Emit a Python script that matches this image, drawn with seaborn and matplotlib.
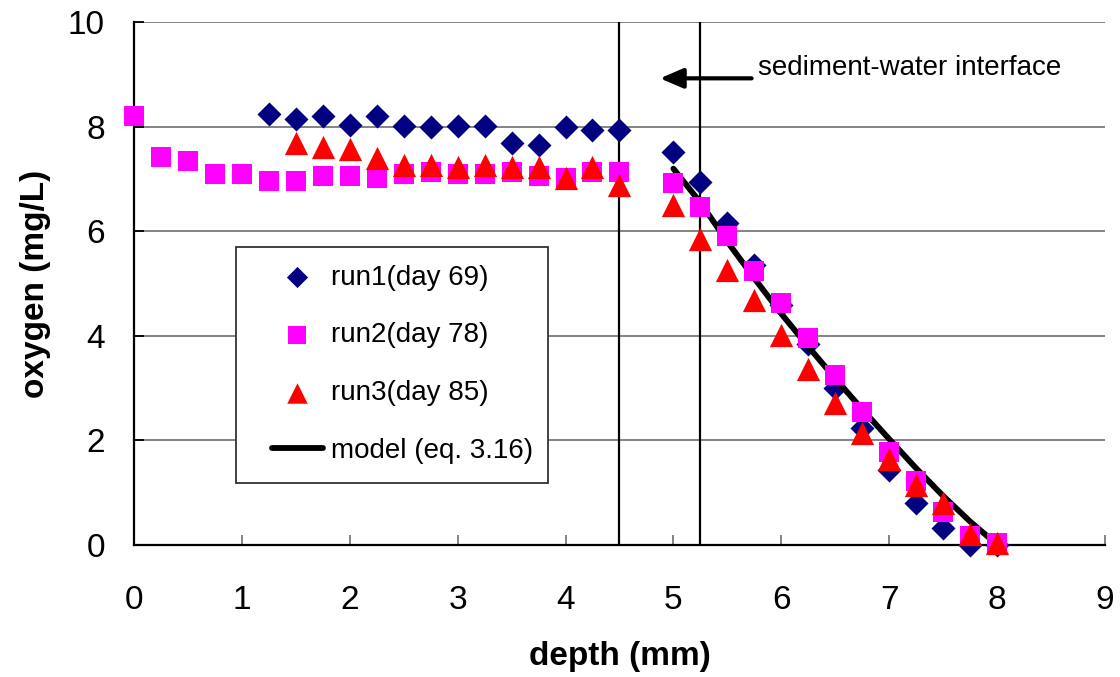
import matplotlib
matplotlib.use("Agg")
import matplotlib.pyplot as plt
from matplotlib.patches import Rectangle
import seaborn as sns
import pandas as pd

# ---------------- data ----------------
depth_run1 = [1.25, 1.5, 1.75, 2.0, 2.25, 2.5, 2.75, 3.0, 3.25, 3.5, 3.75, 4.0, 4.25, 4.5,
              5.0, 5.25, 5.5, 5.75, 6.0, 6.25, 6.5, 6.75, 7.0, 7.25, 7.5, 7.75, 8.0]
oxy_run1 = [8.24, 8.15, 8.20, 8.04, 8.20, 8.02, 7.99, 8.02, 8.02, 7.70, 7.65, 7.99, 7.94, 7.94,
            7.52, 6.95, 6.15, 5.36, 4.58, 3.85, 3.00, 2.23, 1.43, 0.80, 0.32, 0.0, 0.0]

depth_run2 = [0.0, 0.25, 0.5, 0.75, 1.0, 1.25, 1.5, 1.75, 2.0, 2.25, 2.5, 2.75, 3.0, 3.25, 3.5,
              3.75, 4.0, 4.25, 4.5, 5.0, 5.25, 5.5, 5.75, 6.0, 6.25, 6.5, 6.75, 7.0, 7.25, 7.5,
              7.75, 8.0]
oxy_run2 = [8.21, 7.42, 7.34, 7.09, 7.09, 6.96, 6.96, 7.05, 7.05, 7.03, 7.09, 7.13, 7.09, 7.09,
            7.13, 7.05, 7.03, 7.13, 7.13, 6.92, 6.47, 5.91, 5.24, 4.62, 3.95, 3.25, 2.54, 1.78,
            1.21, 0.62, 0.17, 0.03]

depth_run3 = [1.5, 1.75, 2.0, 2.25, 2.5, 2.75, 3.0, 3.25, 3.5, 3.75, 4.0, 4.25, 4.5,
              5.0, 5.25, 5.5, 5.75, 6.0, 6.25, 6.5, 6.75, 7.0, 7.25, 7.5, 7.75, 8.0]
oxy_run3 = [7.70, 7.61, 7.57, 7.40, 7.27, 7.27, 7.23, 7.27, 7.23, 7.23, 7.03, 7.23, 6.89,
            6.51, 5.85, 5.26, 4.68, 4.02, 3.37, 2.72, 2.13, 1.63, 1.14, 0.80, 0.21, 0.02]

depth_model = [5.0, 5.25, 5.5, 5.75, 6.0, 6.25, 6.5, 6.75, 7.0, 7.25, 7.5, 7.75, 8.0]
oxy_model = [7.20, 6.55, 5.80, 5.10, 4.42, 3.79, 3.18, 2.59, 2.02, 1.46, 0.93, 0.44, 0.0]

series_labels = ["run1(day 69)", "run2(day 78)", "run3(day 85)", "model (eq. 3.16)"]
interface_depths = [4.5, 5.25]
annotation_text = "sediment-water interface"
x_ticks = list(range(0, 10))
y_ticks = [0, 2, 4, 6, 8, 10]

# ---------------- style ----------------
sns.set_theme(style="white")
plt.rcParams["font.family"] = ["Liberation Sans", "DejaVu Sans"]
plt.rcParams["text.color"] = "black"
plt.rcParams["axes.labelcolor"] = "black"

fig = plt.figure(figsize=(11.2, 6.77), dpi=100)
ax = fig.add_axes([0.1196, 0.1957, 0.8670, 0.7711])

df1 = pd.DataFrame({"depth": depth_run1, "oxygen": oxy_run1})
df2 = pd.DataFrame({"depth": depth_run2, "oxygen": oxy_run2})
df3 = pd.DataFrame({"depth": depth_run3, "oxygen": oxy_run3})
dfm = pd.DataFrame({"depth": depth_model, "oxygen": oxy_model})

for xv in interface_depths:
    ax.axvline(xv, color="black", lw=1.6, zorder=1.5)

sns.scatterplot(data=df1, x="depth", y="oxygen", marker="D", s=150, color="#000080",
                linewidth=0, label=series_labels[0], ax=ax, zorder=3, clip_on=False)
sns.lineplot(data=dfm, x="depth", y="oxygen", color="black", lw=4.2, ax=ax,
             label=series_labels[3], zorder=3.5)
sns.scatterplot(data=df2, x="depth", y="oxygen", marker="s", s=225, color="#FF00FF",
                linewidth=0, label=series_labels[1], ax=ax, zorder=4, clip_on=False)
sns.scatterplot(data=df3, x="depth", y="oxygen", marker="^", s=280, color="#FF0000",
                linewidth=0, label=series_labels[2], ax=ax, zorder=5, clip_on=False)

ax.set_xlim(0, 9)
ax.set_ylim(0, 10)
ax.set_xticks(x_ticks)
ax.set_yticks(y_ticks)
ax.set_xticklabels([str(t) for t in x_ticks])
ax.set_yticklabels([str(t) for t in y_ticks])

ax.yaxis.grid(True, color="#7a7a7a", lw=1.3, zorder=0)
ax.xaxis.grid(False)
ax.set_axisbelow(True)
for side in ["top", "right"]:
    ax.spines[side].set_visible(False)
for side in ["left", "bottom"]:
    ax.spines[side].set_color("black")
    ax.spines[side].set_linewidth(1.6)
    ax.spines[side].set_zorder(2)

ax.tick_params(axis="x", direction="in", length=7, width=1.3, color="#7a7a7a",
               labelcolor="black", labelsize=24, pad=29, bottom=True)
ax.tick_params(axis="y", direction="in", length=7, width=1.3, color="black",
               labelcolor="black", labelsize=24, pad=21, left=True)

ax.set_xlabel("depth (mm)", fontsize=24, fontweight="bold", labelpad=18)
ax.set_ylabel("oxygen (mg/L)", fontsize=24, fontweight="bold", labelpad=12)

# legend
handles, labels = ax.get_legend_handles_labels()
order = [labels.index(l) for l in series_labels]
leg = ax.legend([handles[i] for i in order], [labels[i] for i in order],
                loc="upper left", bbox_to_anchor=(0.142, 0.536), fontsize=20,
                frameon=False, borderpad=0, borderaxespad=0, handlelength=1.83,
                handletextpad=0.29, labelspacing=1.14, markerscale=0.88)
leg.set_zorder(8)
box = Rectangle((0.105, 0.118), 0.321, 0.452, transform=ax.transAxes,
                facecolor="white", edgecolor="#333333", lw=1.3, zorder=7)
ax.add_patch(box)

# annotation arrow + text
ax.annotate("", xy=(4.875, 8.93), xytext=(5.725, 8.93),
            arrowprops=dict(arrowstyle="-|>,head_length=14,head_width=6",
                            mutation_scale=1, lw=3, color="black",
                            shrinkA=0, shrinkB=0), zorder=6)
ax.text(5.785, 8.99, annotation_text, fontsize=20, va="baseline", ha="left", zorder=6)

fig.savefig("out.png", dpi=100)
